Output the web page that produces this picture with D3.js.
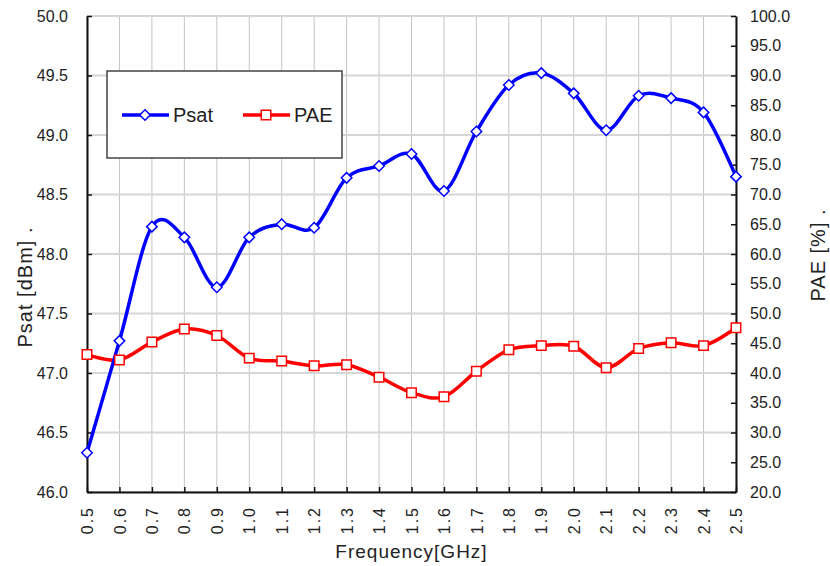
<!DOCTYPE html>
<html>
<head>
<meta charset="utf-8">
<script src="https://cdn.jsdelivr.net/npm/d3@7"></script>
<style>
  body { margin: 0; background: #fff; }
  text { font-family: "Liberation Sans", Arial, sans-serif; fill: #222; }
</style>
</head>
<body>
<div id="chart"></div>
<script>
// data
var freq = [0.5, 0.6, 0.7, 0.8, 0.9, 1.0, 1.1, 1.2, 1.3, 1.4, 1.5, 1.6, 1.7, 1.8, 1.9, 2.0, 2.1, 2.2, 2.3, 2.4, 2.5];
var psat = [46.33, 47.27, 48.23, 48.14, 47.72, 48.14, 48.25, 48.22, 48.64, 48.74, 48.84, 48.53, 49.03, 49.42, 49.52, 49.35, 49.04, 49.33, 49.31, 49.19, 48.65];
var pae  = [43.1, 42.2, 45.2, 47.4, 46.3, 42.5, 42.0, 41.2, 41.4, 39.3, 36.7, 36.0, 40.3, 43.9, 44.6, 44.5, 40.9, 44.1, 45.1, 44.6, 47.6];
var leftTicks  = d3.range(46, 50.01, 0.5);
var rightTicks = d3.range(20, 100.01, 5);

var width = 830, height = 566;
var margin = {top: 16, right: 94, bottom: 74, left: 87};
var innerW = width - margin.left - margin.right,
    innerH = height - margin.top - margin.bottom;

var svg = d3.select("#chart").append("svg")
    .attr("width", width)
    .attr("height", height);

var g = svg.append("g")
    .attr("transform", "translate(" + margin.left + "," + margin.top + ")");

var x = d3.scaleLinear().domain([0.5, 2.5]).range([0, innerW]);
var yL = d3.scaleLinear().domain([46, 50]).range([innerH, 0]);
var yR = d3.scaleLinear().domain([20, 100]).range([innerH, 0]);

// grid
g.append("g").selectAll("line")
    .data(freq)
    .enter().append("line")
    .attr("x1", d => x(d)).attr("x2", d => x(d))
    .attr("y1", 0).attr("y2", innerH)
    .attr("stroke", "#c4c4c4").attr("stroke-width", 1);

g.append("g").selectAll("line")
    .data(leftTicks)
    .enter().append("line")
    .attr("x1", 0).attr("x2", innerW)
    .attr("y1", d => yL(d)).attr("y2", d => yL(d))
    .attr("stroke", "#d6d6d6").attr("stroke-width", 2);

// axes
var fmt = d3.format(".1f");

var xAxis = g.append("g")
    .attr("transform", "translate(0," + innerH + ")")
    .call(d3.axisBottom(x).tickValues(freq).tickFormat(fmt).tickSizeInner(-5).tickSizeOuter(0).tickPadding(14));
var leftAxis = g.append("g")
    .call(d3.axisLeft(yL).tickValues(leftTicks).tickFormat(fmt).tickSizeInner(-5).tickSizeOuter(0).tickPadding(19));
var rightAxis = g.append("g")
    .attr("transform", "translate(" + innerW + ",0)")
    .call(d3.axisRight(yR).tickValues(rightTicks).tickFormat(fmt).tickSizeInner(-5).tickSizeOuter(0).tickPadding(14));

[xAxis, leftAxis, rightAxis].forEach(function(a) {
  a.select(".domain").attr("stroke", "#111").attr("stroke-width", 2);
  a.selectAll(".tick line").attr("stroke", "#111").attr("stroke-width", 1.5);
  a.selectAll("text").style("font-size", "16px").style("font-family", "Liberation Sans, Arial, sans-serif").attr("fill", "#333");
});

xAxis.selectAll("text")
    .attr("transform", "rotate(-90)")
    .attr("text-anchor", "end")
    .attr("x", -14).attr("y", 0)
    .attr("dy", "0.35em")
    .style("letter-spacing", "2px");

// lines
var lineL = d3.line().x((d, i) => x(freq[i])).y(d => yL(d)).curve(d3.curveCardinal.tension(0));
var lineR = d3.line().x((d, i) => x(freq[i])).y(d => yR(d)).curve(d3.curveCardinal.tension(0));

g.append("path").datum(pae)
    .attr("d", lineR)
    .attr("fill", "none").attr("stroke", "#ff0000").attr("stroke-width", 3.5);

g.append("path").datum(psat)
    .attr("d", lineL)
    .attr("fill", "none").attr("stroke", "#0000ff").attr("stroke-width", 3.5);

var diamond = d3.symbol().type(d3.symbolDiamond2).size(70);
var square = d3.symbol().type(d3.symbolSquare).size(90);

g.append("g").selectAll("path")
    .data(pae)
    .enter().append("path")
    .attr("d", square)
    .attr("transform", (d, i) => "translate(" + x(freq[i]) + "," + yR(d) + ")")
    .attr("fill", "#fff").attr("stroke", "#ff0000").attr("stroke-width", 1.5);

g.append("g").selectAll("path")
    .data(psat)
    .enter().append("path")
    .attr("d", diamond)
    .attr("transform", (d, i) => "translate(" + x(freq[i]) + "," + yL(d) + ")")
    .attr("fill", "#fff").attr("stroke", "#0000ff").attr("stroke-width", 1.5);

// legend
var legend = svg.append("g").attr("transform", "translate(107,71)");
legend.append("rect")
    .attr("width", 235).attr("height", 87)
    .attr("fill", "#fff").attr("stroke", "#444").attr("stroke-width", 1.5);

var items = [
  {name: "Psat", color: "#0000ff", sym: diamond, x: 15},
  {name: "PAE", color: "#ff0000", sym: square, x: 136}
];
var item = legend.selectAll(".item").data(items).enter().append("g")
    .attr("transform", d => "translate(" + d.x + ",44)");
item.append("line")
    .attr("x1", 0).attr("x2", 47)
    .attr("stroke", d => d.color).attr("stroke-width", 3.5);
item.append("path")
    .attr("d", d => d.sym())
    .attr("transform", "translate(23,0)")
    .attr("fill", "#fff").attr("stroke", d => d.color).attr("stroke-width", 1.5);
item.append("text")
    .attr("x", 51).attr("y", 7)
    .style("font-size", "20px")
    .text(d => d.name);

// axis titles
svg.append("text")
    .attr("x", margin.left + innerW / 2).attr("y", 558)
    .attr("text-anchor", "middle")
    .style("font-size", "19px").style("letter-spacing", "1px")
    .text("Frequency[GHz]");

svg.append("text")
    .attr("transform", "translate(25,287) rotate(-90)")
    .attr("text-anchor", "middle")
    .attr("dy", "0.35em")
    .style("font-size", "20px").style("letter-spacing", "1px")
    .text("Psat [dBm]  .");

svg.append("text")
    .attr("transform", "translate(818,255) rotate(-90)")
    .attr("text-anchor", "middle")
    .attr("dy", "0.35em")
    .style("font-size", "20px").style("letter-spacing", "1px")
    .text("PAE [%]  .");
</script>
</body>
</html>
